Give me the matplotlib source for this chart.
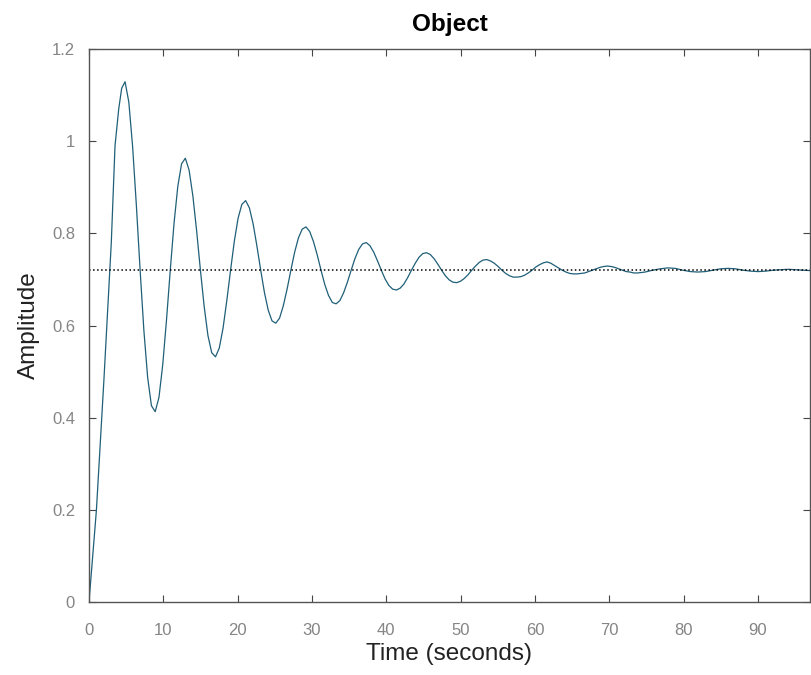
import numpy as np
import matplotlib.pyplot as plt

plt.rcParams['font.family'] = ['Liberation Sans', 'DejaVu Sans']

# initial rise
rise_t = [0.0, 0.5, 1.0, 1.5, 2.0, 2.5, 3.0, 3.5, 4.0, 4.4]
rise_y = [0.0, 0.10, 0.20, 0.34, 0.48, 0.63, 0.78, 0.99, 1.07, 1.115]

# oscillating part, sampled every 0.507 s starting at the first peak
osc_t0 = 4.85
osc_dt = 0.507
osc_y = [1.129, 1.085, 0.989, 0.861, 0.720, 0.589, 0.487, 0.426, 0.413,
         0.444, 0.515, 0.612, 0.720, 0.822, 0.902, 0.951, 0.963,
         0.937, 0.881, 0.805, 0.720, 0.641, 0.578, 0.541, 0.532,
         0.551, 0.594, 0.654, 0.720, 0.783, 0.833, 0.863, 0.871,
         0.855, 0.820, 0.772, 0.720, 0.671, 0.633, 0.610, 0.605,
         0.616, 0.643, 0.679, 0.720, 0.759, 0.790, 0.809, 0.814,
         0.804, 0.782, 0.753, 0.720, 0.689, 0.665, 0.650, 0.647,
         0.654, 0.671, 0.694, 0.720, 0.745, 0.765, 0.777, 0.780,
         0.773, 0.759, 0.740, 0.720, 0.701, 0.687, 0.679, 0.677,
         0.681, 0.690, 0.704, 0.720, 0.735, 0.748, 0.756, 0.758,
         0.754, 0.745, 0.733, 0.720, 0.708, 0.699, 0.694, 0.693,
         0.696, 0.702, 0.710, 0.720, 0.729, 0.737, 0.742, 0.743,
         0.740, 0.735, 0.728, 0.720, 0.713, 0.708, 0.705, 0.705,
         0.706, 0.709, 0.714, 0.720, 0.727, 0.732, 0.736, 0.738,
         0.735, 0.730, 0.725, 0.720, 0.716, 0.713, 0.712, 0.712,
         0.713, 0.714, 0.717, 0.720, 0.723, 0.726, 0.728, 0.729,
         0.728, 0.726, 0.723, 0.720, 0.717, 0.716, 0.714, 0.714]

# settling tail, sampled every 1.014 s
tail_y = [0.716, 0.720, 0.723, 0.725, 0.724, 0.720, 0.717, 0.716,
          0.717, 0.720, 0.723, 0.724, 0.723, 0.720, 0.718, 0.717,
          0.718, 0.720, 0.721, 0.722, 0.721, 0.720, 0.719]

final_value = 0.72

osc_t = osc_t0 + osc_dt * np.arange(len(osc_y))
tail_t = osc_t[-1] + 2 * osc_dt * np.arange(1, len(tail_y) + 1)

t = np.concatenate([rise_t, osc_t, tail_t])
y = np.concatenate([rise_y, osc_y, tail_y])

fig = plt.figure(figsize=(8.11, 6.75), dpi=100)
ax = fig.add_axes([89/811, 73/675, 721/811, 553/675])

ax.plot(t, y, color='#1f5f78', lw=0.9)
ax.axhline(final_value, color='black', ls=':', lw=1.1)

ax.set_xlim(0, 97)
ax.set_ylim(0, 1.2)
ax.set_xticks(np.arange(0, 91, 10))
ax.set_yticks([0, 0.2, 0.4, 0.6, 0.8, 1.0, 1.2])
ax.set_yticklabels(['0', '0.2', '0.4', '0.6', '0.8', '1', '1.2'])

ax.tick_params(direction='in', top=True, right=True, length=5,
               labelsize=12, labelcolor='#858585', color='#444444')
ax.tick_params(axis='x', pad=15)
ax.tick_params(axis='y', pad=10)
for s in ax.spines.values():
    s.set_color('#555555')
    s.set_linewidth(1.0)

ax.set_xlabel('Time (seconds)', fontsize=17.5, color='#222222', labelpad=4)
ax.set_ylabel('Amplitude', fontsize=17.5, color='#222222', labelpad=9)
ax.set_title('Object', fontsize=17.5, fontweight='bold', pad=13)

fig.savefig('out.png', dpi=100)
